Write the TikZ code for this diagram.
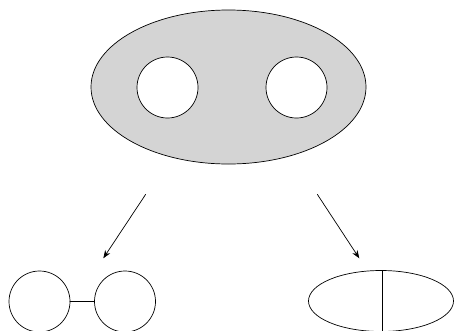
\documentclass[tikz,border=0pt]{standalone}
\usepackage{tikz}
\usetikzlibrary{arrows.meta}

\begin{document}
\begin{tikzpicture}[>={Stealth[length=8pt, width=6pt]}, x=1pt, y=-1pt,
    line cap=round, line join=round,
    outline/.style={draw=black, line width=0.7pt}]

    % fix the page to the reference size
    \useasboundingbox (0,0) rectangle (455,330);

    % ------------------------------------------------------------------
    % 1. Surface with two holes
    % ------------------------------------------------------------------
    \path[outline, fill=black!17, even odd rule]
        (228.5,87) ellipse [x radius=137.5, y radius=77]
        (167.5,87.5) circle (30.5)
        (296.5,87.5) circle (30.5);

    % ------------------------------------------------------------------
    % 2. Arrow end points
    % ------------------------------------------------------------------
    \coordinate (leftfrom)  at (145.7,194.3);
    \coordinate (leftto)    at (103.3,258.3);
    \coordinate (rightfrom) at (317.3,194.3);
    \coordinate (rightto)   at (359.3,258.3);

    \draw[->, line width=0.7pt] (leftfrom) -- (leftto);
    \draw[->, line width=0.7pt] (rightfrom) -- (rightto);

    % ------------------------------------------------------------------
    % 3. Left result: two circles joined by an edge
    % ------------------------------------------------------------------
    \draw[outline] (39.5,301.5) circle (30.5);
    \draw[outline] (125,301.5) circle (30.5);
    \draw[outline] (70,301.5) -- (94.5,301.5);

    % ------------------------------------------------------------------
    % 4. Right result: ellipse split by a vertical line
    % ------------------------------------------------------------------
    \draw[outline] (381,301) ellipse [x radius=72.5, y radius=30.5];
    \draw[outline] (382,270.5) -- (382,331.5);

\end{tikzpicture}
\end{document}
